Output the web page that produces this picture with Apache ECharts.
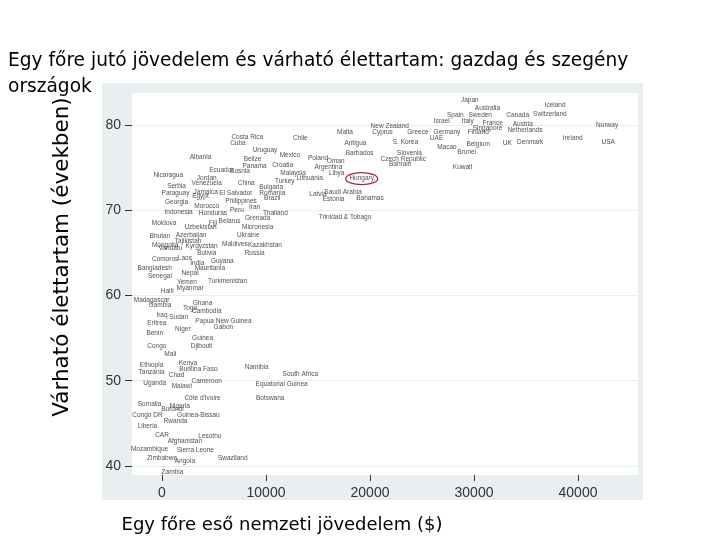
<!DOCTYPE html>
<html style="height: 100%">
<head>
<meta charset="utf-8">
<title>Jövedelem és élettartam</title>
<style>
  html, body { margin: 0; padding: 0; background: #fff; }
  #chart { width: 720px; height: 540px; }
</style>
</head>
<body>
<div id="chart"></div>
<script src="https://cdn.jsdelivr.net/npm/echarts@6/dist/echarts.min.js"></script>
<script>
// orszagok, jovedelem ($), varhato elettartam (ev) - a kepről leolvasva
var countries = [
  'Japan','Australia','Iceland','Spain','Sweden','Canada','Switzerland','Israel','Italy','France',
  'Austria','Norway','New Zealand','Singapore','Netherlands','Malta','Cyprus','Greece','Germany','Finland',
  'Chile','Costa Rica','Cuba','UAE','Ireland','S. Korea','USA','Denmark','UK','Belgium',
  'Antigua','Macao','Uruguay','Brunei','Barbados','Slovenia','Mexico','Albania','Poland','Belize',
  'Czech Republic','Oman','Bahrain','Croatia','Panama','Kuwait','Argentina','Ecuador','Bosnia','Libya',
  'Malaysia','Nicaragua','Jordan','Hungary','Lithuania','Venezuela','China','Turkey','Serbia','Bulgaria',
  'Paraguay','Jamaica','El Salvador','Romania','Latvia','Saudi Arabia','Egypt','Brazil','Estonia','Bahamas',
  'Georgia','Philippines','Morocco','Iran','Peru','Indonesia','Honduras','Thailand','Trinidad & Tobago','Grenada',
  'Belarus','Moldova','Fiji','Micronesia','Uzbekistan','Bhutan','Azerbaijan','Ukraine','Tajikistan','Mongolia',
  'Kyrgyzstan','Maldives','Kazakhstan','Vanuatu','Russia','Bolivia','Comoros','Laos','Guyana','India',
  'Bangladesh','Mauritania','Senegal','Nepal','Yemen','Turkmenistan','Myanmar','Haiti','Madagascar','Gambia',
  'Ghana','Togo','Cambodia','Iraq','Sudan','Papua New Guinea','Eritrea','Gabon','Niger','Benin',
  'Guinea','Congo','Djibouti','Mali','Kenya','Ethiopia','Burkina Faso','Namibia','Tanzania','Chad',
  'South Africa','Uganda','Cameroon','Malawi','Equatorial Guinea',"Côte d'Ivoire",'Botswana','Somalia','Nigeria','Burundi',
  'Congo DR','Guinea-Bissau','Rwanda','Liberia','CAR','Lesotho','Afghanistan','Mozambique','Sierra Leone','Swaziland',
  'Zimbabwe','Angola','Zambia'
];
var income = [
  29600,31300,37800,28200,30600,34200,37300,26900,29400,31800,
  34700,42800,21900,31300,34900,17600,21200,24600,27400,30400,
  13300,8200,7300,26400,39500,23400,42900,35400,33200,30400,
  18600,27400,9900,29300,19000,23800,12300,3700,15000,8700,
  23200,16700,22900,11600,8900,28900,16000,5700,7500,16800,
  12600,600,4300,19200,14200,4300,8100,11800,1400,10500,
  1300,4200,7100,10600,15000,17400,3700,10600,16500,20000,
  1400,7600,4300,8900,7200,1600,4900,10900,17600,9200,
  6500,200,4900,9200,3700,-200,2800,8300,2500,300,
  3800,7000,9900,800,8900,4300,300,2200,5800,3400,
  -700,4600,-200,2700,2400,6300,2700,500,-1000,-200,
  3900,2700,4300,0,1600,5900,-500,5900,2000,-700,
  3900,-500,3800,800,2500,-1000,3500,9100,-1000,1400,
  13300,-700,4300,1900,11500,3900,10400,-1200,1700,1000,
  -1400,3500,1300,-1400,0,4600,2200,-1200,3200,6800,
  0,2200,1000
];
var lifeExp = [
  82.9,82.0,82.3,81.2,81.2,81.2,81.3,80.4,80.4,80.2,
  80.1,80.0,79.9,79.6,79.4,79.2,79.1,79.1,79.2,79.1,
  78.4,78.6,77.9,78.4,78.4,78.0,78.0,78.0,77.9,77.8,
  77.9,77.4,77.0,76.8,76.7,76.7,76.4,76.2,76.1,76.0,
  76.0,75.8,75.4,75.3,75.2,75.1,75.0,74.7,74.6,74.4,
  74.4,74.1,73.8,73.7,73.7,73.2,73.2,73.4,72.8,72.7,
  72.0,72.1,72.0,72.0,71.9,72.1,71.6,71.4,71.3,71.4,
  70.9,71.0,70.5,70.4,70.0,69.8,69.7,69.7,69.2,69.1,
  68.7,68.5,68.5,68.0,68.0,67.0,67.1,67.1,66.4,65.9,
  65.8,66.0,65.9,65.5,65.0,65.0,64.3,64.4,64.0,63.8,
  63.2,63.2,62.3,62.6,61.6,61.7,60.9,60.5,59.5,58.8,
  59.1,58.5,58.1,57.7,57.5,57.0,56.7,56.3,56.0,55.6,
  55.0,54.1,54.0,53.1,52.1,51.8,51.4,51.6,51.0,50.6,
  50.8,49.7,49.9,49.3,49.6,48.0,48.0,47.2,47.0,46.7,
  45.9,45.9,45.3,44.7,43.6,43.5,42.9,42.0,41.9,40.9,
  40.9,40.5,39.3
];
var xTicks = [0, 10000, 20000, 30000, 40000];
var yTicks = [40, 50, 60, 70, 80];
var highlighted = 'Hungary';

var points = [];
for (var i = 0; i < countries.length; i++) {
  points.push({ name: countries[i], value: [income[i], lifeExp[i]] });
}

var titleFont = '"Comic Sans MS", "DejaVu Sans", sans-serif';
var myChart = echarts.init(document.getElementById('chart'));

function frameGraphics(ellipse) {
  var g = [
    { id: 'frame', type: 'rect', z: -100, silent: true,
      shape: { x: 102, y: 83, width: 541, height: 417 },
      style: { fill: '#e9eff1' } },
    { id: 'xname', type: 'text', silent: true,
      x: 282, y: 525,
      style: { text: 'Egy főre eső nemzeti jövedelem ($)', font: '18px ' + titleFont,
               fill: '#000', textAlign: 'center', textVerticalAlign: 'middle' } },
    { id: 'yname', type: 'text', silent: true,
      x: 62, y: 257, rotation: Math.PI / 2,
      style: { text: 'Várható élettartam (években)', font: '21.5px ' + titleFont,
               fill: '#000', textAlign: 'center', textVerticalAlign: 'middle' } }
  ];
  if (ellipse) g.push(ellipse);
  return g;
}

var option = {
  animation: false,
  backgroundColor: '#fff',
  title: {
    text: 'Egy főre jutó jövedelem és várható élettartam: gazdag és szegény\nországok',
    left: 8,
    top: 48,
    padding: 0,
    textStyle: { fontFamily: titleFont, fontSize: 18.6, fontWeight: 'normal', color: '#000', lineHeight: 26 }
  },
  grid: {
    left: 132, right: 82, top: 93, bottom: 65,
    show: true, backgroundColor: '#fff', borderWidth: 0
  },
  xAxis: {
    type: 'value',
    min: -2885, max: 45770,
    axisLine: { show: false, onZero: false },
    axisTick: { show: true, length: 6, customValues: xTicks, lineStyle: { color: '#333' } },
    axisLabel: { customValues: xTicks, margin: 11, fontSize: 14, color: '#333', fontFamily: 'Liberation Sans',
                 formatter: function (v) { return String(v); } },
    splitLine: { show: false }
  },
  yAxis: {
    type: 'value',
    min: 38.94, max: 83.75,
    axisLine: { show: false, onZero: false },
    axisTick: { show: true, length: 7, customValues: yTicks, lineStyle: { color: '#333' } },
    axisLabel: { customValues: yTicks, margin: 11, fontSize: 14, color: '#333', fontFamily: 'Liberation Sans',
                 formatter: function (v) { return String(v); } },
    splitLine: { show: true, lineStyle: { color: '#e6eef0', width: 1 } }
  },
  graphic: frameGraphics(null),
  series: [{
    type: 'scatter',
    clip: false,
    symbolSize: 0.1,
    itemStyle: { color: 'rgba(0,0,0,0)' },
    label: {
      show: true, position: 'inside', formatter: '{b}',
      fontSize: 6.5, color: '#222', fontFamily: 'Liberation Sans'
    },
    data: points
  }]
};
myChart.setOption(option);

// piros ellipszis a kiemelt orszag korul
var idx = countries.indexOf(highlighted);
var c = myChart.convertToPixel({ seriesIndex: 0 }, [income[idx], lifeExp[idx]]);
myChart.setOption({
  graphic: frameGraphics({ id: 'mark', type: 'ellipse', z: 100, silent: true,
    shape: { cx: c[0], cy: c[1], rx: 16, ry: 6 },
    style: { fill: 'none', stroke: '#a32a35', lineWidth: 1.2 } })
});
</script>
</body>
</html>
